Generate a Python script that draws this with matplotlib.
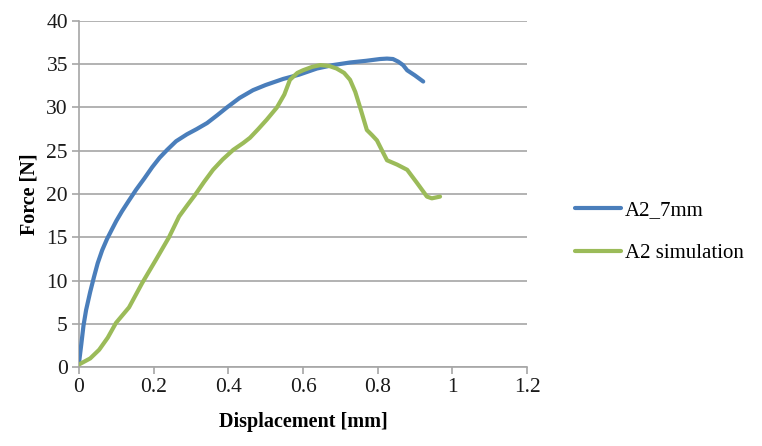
import matplotlib
matplotlib.use("Agg")
import matplotlib.pyplot as plt

# Data
exp_x = [0.0, 0.006, 0.012, 0.019, 0.03, 0.04, 0.05, 0.062, 0.075, 0.088, 0.1, 0.115, 0.133,
         0.153, 0.175, 0.196, 0.216, 0.236,
         0.26, 0.289, 0.315, 0.343, 0.37, 0.396, 0.43, 0.466, 0.5, 0.547, 0.59, 0.637,
         0.68, 0.726, 0.77, 0.806, 0.825, 0.841, 0.855, 0.868, 0.879, 0.9, 0.922]
exp_y = [0.5, 2.6, 4.8, 6.6, 8.7, 10.4, 12.0, 13.5, 14.8, 15.9, 16.9, 18.0, 19.2,
         20.5, 21.8, 23.1, 24.2, 25.1,
         26.1, 26.9, 27.5, 28.2, 29.1, 30.0, 31.1, 32.0, 32.6, 33.3, 33.8, 34.5,
         34.9, 35.2, 35.4, 35.6, 35.65, 35.6, 35.3, 34.9, 34.3, 33.7, 33.0]

sim_x = [0.0, 0.03, 0.054, 0.077, 0.099, 0.134, 0.169, 0.206, 0.241, 0.268,
         0.29, 0.311, 0.335, 0.359, 0.385, 0.413, 0.44, 0.458, 0.48, 0.503, 0.53, 0.55, 0.565,
         0.585, 0.6, 0.625, 0.646, 0.67, 0.69, 0.71, 0.726, 0.74, 0.753, 0.771,
         0.785, 0.798, 0.812, 0.825, 0.852, 0.879, 0.905, 0.932, 0.945, 0.967]
sim_y = [0.3, 1.0, 2.0, 3.4, 5.1, 6.9, 9.7, 12.4, 15.0, 17.4,
         18.7, 19.9, 21.4, 22.8, 24.0, 25.1, 25.9, 26.5, 27.5, 28.6, 30.0, 31.5, 33.2,
         34.0, 34.3, 34.7, 34.9, 34.8, 34.5, 34.0, 33.2, 31.8, 30.0, 27.4,
         26.8, 26.2, 25.0, 23.9, 23.4, 22.8, 21.3, 19.7, 19.5, 19.7]

x_ticks = [0, 0.2, 0.4, 0.6, 0.8, 1.0, 1.2]
x_labels = ["0", "0.2", "0.4", "0.6", "0.8", "1", "1.2"]
y_ticks = [0, 5, 10, 15, 20, 25, 30, 35, 40]

plt.rcParams['font.family'] = ['Liberation Serif', 'DejaVu Serif']

fig = plt.figure(figsize=(7.62, 4.46), dpi=100)
ax = fig.add_axes([0.1037, 0.177, 0.5879, 0.776])

grid_c = '#a6a6a6'
ax.plot(exp_x, exp_y, color='#4a7ebb', lw=3.0, label='A2_7mm', solid_capstyle='round',
        solid_joinstyle='round', zorder=3)
ax.plot(sim_x, sim_y, color='#9bbb59', lw=3.0, label='A2 simulation', solid_capstyle='round',
        solid_joinstyle='round', zorder=3)

ax.set_xlim(0, 1.2)
ax.set_ylim(0, 40)
ax.set_xticks(x_ticks)
ax.set_xticklabels(x_labels)
ax.set_yticks(y_ticks)
ax.yaxis.grid(True, color=grid_c, lw=1.2)
ax.set_axisbelow(True)
for s in ['top', 'right']:
    ax.spines[s].set_visible(False)
for s in ['left', 'bottom']:
    ax.spines[s].set_color(grid_c)
    ax.spines[s].set_linewidth(1.2)
ax.tick_params(axis='both', colors=grid_c, length=5, width=1.2, labelcolor='#1a1a1a', labelsize=15.5)
ax.tick_params(axis='x', pad=3)
ax.tick_params(axis='y', pad=3)

ax.set_xlabel('Displacement [mm]', fontsize=14.5, fontweight='bold', labelpad=11)
ax.set_ylabel('Force [N]', fontsize=14.5, fontweight='bold', labelpad=5)

leg = fig.legend(loc='upper left', bbox_to_anchor=(0.73, 0.593), frameon=False,
                 fontsize=15, handlelength=2.2, handletextpad=0.2, labelspacing=1.15)

fig.savefig('out.png', dpi=100)
